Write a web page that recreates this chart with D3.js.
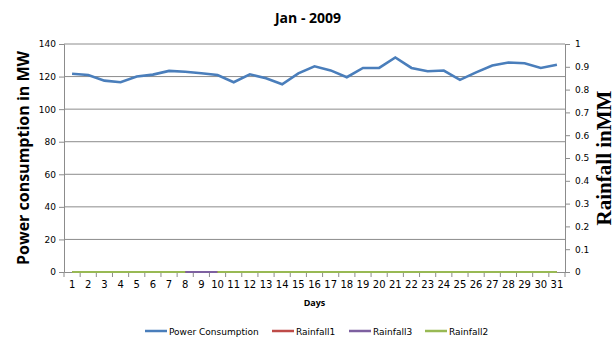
<!DOCTYPE html>
<html>
<head>
<meta charset="utf-8">
<script src="https://cdn.jsdelivr.net/npm/d3@7"></script>
<style>
  body { margin: 0; background: #fff; }
  text { font-family: "Open Sans", "DejaVu Sans", sans-serif; }
</style>
</head>
<body>
<div id="chart"></div>
<script>
const days = d3.range(1, 32);
const power = [121.7, 121, 117.5, 116.5, 120, 121.2, 123.5, 123, 122, 121,
               116.5, 121.4, 119, 115.3, 122, 126.3, 123.8, 119.6, 125.3, 125.3,
               131.7, 125.3, 123.3, 123.7, 118, 122.6, 126.8, 128.6, 128.2, 125.3, 127.3];
const rainfall1 = days.map(() => 0);
const rainfall3 = days.map(d => (d >= 8 && d <= 10) ? 0 : null);
const rainfall2 = days.map(d => d === 9 ? null : 0);
const leftTicks = [0, 20, 40, 60, 80, 100, 120, 140];
const rightTicks = [0, 0.1, 0.2, 0.3, 0.4, 0.5, 0.6, 0.7, 0.8, 0.9, 1];

const series = [
  { name: "Power Consumption", values: power, axis: "left", color: "#4a7ebb" },
  { name: "Rainfall1", values: rainfall1, axis: "right", color: "#be4b48" },
  { name: "Rainfall3", values: rainfall3, axis: "right", color: "#7d60a0" },
  { name: "Rainfall2", values: rainfall2, axis: "right", color: "#98b954" }
];

const W = 616, H = 339;
const margin = { top: 44, right: 51, bottom: 67, left: 64 };
const width = W - margin.left - margin.right;
const height = H - margin.top - margin.bottom;

const svg = d3.select("#chart").append("svg")
  .attr("width", W).attr("height", H);

const g = svg.append("g")
  .attr("transform", `translate(${margin.left},${margin.top})`);

const x = d3.scaleBand().domain(days).range([0, width]);
const yL = d3.scaleLinear().domain([0, 140]).range([height, 0]);
const yR = d3.scaleLinear().domain([0, 1]).range([height, 0]);

// gridlines
g.append("g")
  .selectAll("line")
  .data(leftTicks.filter(d => d > 0))
  .join("line")
  .attr("x1", 0).attr("x2", width)
  .attr("y1", d => yL(d)).attr("y2", d => yL(d))
  .attr("stroke", "#8c8c8c").attr("stroke-width", 1);

// left axis
const axL = g.append("g")
  .call(d3.axisLeft(yL).tickValues(leftTicks).tickSize(5).tickPadding(3));
// right axis
const axR = g.append("g")
  .attr("transform", `translate(${width},0)`)
  .call(d3.axisRight(yR).tickValues(rightTicks).tickSize(5).tickPadding(5)
    .tickFormat(d => d3.format("")(+d.toFixed(1))));
// bottom axis
const axB = g.append("g")
  .attr("transform", `translate(0,${height})`)
  .call(d3.axisBottom(x).tickSize(0).tickPadding(9));

[axL, axR, axB].forEach(a => {
  a.select(".domain").attr("stroke", "#8c8c8c");
  a.selectAll(".tick line").attr("stroke", "#8c8c8c");
  a.selectAll("text").attr("fill", "#000").style("font-size", "10px")
    .style("font-family", "'DejaVu Sans', sans-serif");
});
axL.selectAll("text").style("font-size", "9px");
axR.selectAll("text").style("font-size", "9px");
axB.selectAll("text").style("font-size", "10px");

// x tick marks between categories
g.append("g")
  .selectAll("line")
  .data(d3.range(0, days.length + 1))
  .join("line")
  .attr("x1", i => i * x.step()).attr("x2", i => i * x.step())
  .attr("y1", height).attr("y2", height + 5)
  .attr("stroke", "#8c8c8c");

// lines
series.forEach(s => {
  const yScale = s.axis === "left" ? yL : yR;
  const line = d3.line()
    .defined(d => d.v !== null)
    .x(d => x(d.day) + x.bandwidth() / 2)
    .y(d => yScale(d.v));
  g.append("path")
    .datum(days.map((day, i) => ({ day, v: s.values[i] })))
    .attr("d", line)
    .attr("fill", "none")
    .attr("stroke", s.color)
    .attr("stroke-width", s.axis === "left" ? 2.6 : 2);
});

// title
svg.append("text")
  .attr("x", W / 2).attr("y", 23)
  .attr("text-anchor", "middle")
  .style("font-size", "14px").style("font-weight", "bold")
  .text("Jan - 2009");

// axis titles
svg.append("text")
  .attr("transform", `translate(29,${margin.top + height / 2}) rotate(-90)`)
  .attr("text-anchor", "middle")
  .style("font-size", "16px").style("font-weight", "bold")
  .text("Power consumption in MW");

svg.append("text")
  .attr("transform", `translate(611,${margin.top + height / 2}) rotate(-90)`)
  .attr("text-anchor", "middle")
  .style("font-family", "'Liberation Serif', serif")
  .style("font-size", "21px").style("font-weight", "bold")
  .text("Rainfall inMM");

svg.append("text")
  .attr("x", margin.left + width / 2).attr("y", 306)
  .attr("text-anchor", "middle")
  .style("font-size", "9px").style("font-weight", "bold")
  .text("Days");

// legend
const legendX = [145, 272, 349, 425];
const legend = svg.append("g");
series.forEach((s, i) => {
  const row = legend.append("g").attr("transform", `translate(${legendX[i]},331)`);
  row.append("line")
    .attr("x1", 0).attr("x2", 22).attr("y1", 0).attr("y2", 0)
    .attr("stroke", s.color).attr("stroke-width", 2.5);
  row.append("text")
    .attr("x", 24).attr("y", 3.5)
    .style("font-size", "9px")
    .style("font-family", "'DejaVu Sans', sans-serif")
    .text(s.name);
});
</script>
</body>
</html>
